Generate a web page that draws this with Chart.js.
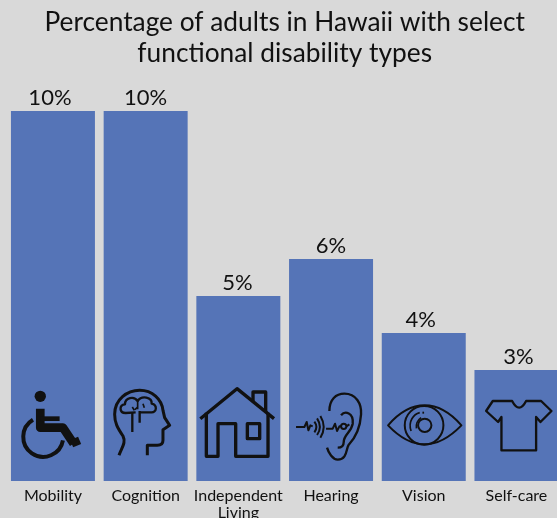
<!DOCTYPE html>
<html>
<head>
<meta charset="utf-8">
<title>Functional disability types</title>
<script src="https://cdn.jsdelivr.net/npm/chart.js@4"></script>
<style>
    html, body { margin: 0; padding: 0; width: 557px; height: 518px; overflow: hidden; background: #d9d9d9; }
    canvas { display: block; }
</style>
</head>
<body>
<canvas id="grafico" width="566" height="518"></canvas>
<script>
const titleLines = ['Percentage of adults in Hawaii with select', 'functional disability types'];
const categories = ['Mobility', 'Cognition', ['Independent', 'Living'], 'Hearing', 'Vision', 'Self-care'];
const percentValues = [10, 10, 5, 6, 4, 3];
const axisMax = 10;

const FONT = 'Lato, "Open Sans", sans-serif';
const INK = '#111111';
const BAR_COLOR = '#5574b7';

// small sideways shift of the value labels
const valueLabelShift = [-3, 0, -1, 0, -3, 2];

// icon outlines, in thirds of a pixel from the bar's bottom centre
const icons = [
    { fill: ['M-55,-254 a17,17 0 1 0 34,0 a17,17 0 1 0 -34,0 Z'], parts: [
        { w: 26, d: 'M-38,-217 L-38,-160 L30,-160 L62,-112' },
        { w: 24, d: 'M56,-112 L80,-122' },
        { w: 14, d: 'M-38,-187 L20,-187' },
        { w: 12, d: 'M-60,-184 A60,60 0 1 0 30,-122' }
    ] },
    { parts: [
        { w: 9, d: 'M-80,-77 C-72,-100 -58,-115 -68,-135 C-85,-160 -93,-175 -93,-200 C-93,-245 -55,-272 -18,-272 C20,-272 48,-245 52,-212 L57,-190 L72,-167 L52,-154 L52,-122 Q52,-107 35,-107 L5,-107 L5,-77' },
        { w: 7, d: 'M-40,-147 L-40,-205 M-18,-175 L-18,-210' },
        { w: 7, d: 'M-30,-206 L-60,-204 C-80,-204 -80,-228 -62,-230 C-62,-250 -35,-256 -24,-240 C-12,-258 20,-252 18,-232 C36,-228 34,-204 16,-206 L-18,-206' },
        { w: 5, d: 'M-24,-240 L-24,-215 M-40,-222 L-34,-212 M-8,-232 L-4,-220 M-24,-222 L-32,-214' }
    ] },
    { parts: [
        { w: 10, d: 'M-114,-187 L-4,-277 L107,-187' },
        { w: 10, d: 'M-96,-205 V-74 H-61 V-172 H-8 V-74 H89 V-205' },
        { w: 10, d: 'M27,-172 H64 V-127 H27 Z' },
        { w: 10, d: 'M44,-240 V-267 H82 V-207' }
    ] },
    { parts: [
        { w: 7, d: 'M-5,-210 C-5,-245 15,-262 40,-262 C75,-262 92,-232 90,-200 C88,-165 75,-132 52,-107 C45,-95 48,-64 20,-64 C5,-64 -8,-85 -12,-100' },
        { w: 7, d: 'M30,-197 C42,-212 68,-205 65,-172 C60,-145 38,-140 38,-117 C38,-105 30,-100 20,-100' },
        { w: 6, d: 'M-105,-162 L-80,-162 L-73,-177 L-68,-152 L-62,-167 L-55,-164' },
        { w: 6, d: 'M-50,-178 Q-38,-162 -50,-146 M-42,-188 Q-25,-162 -42,-138 M-32,-195 Q-12,-162 -32,-130' },
        { w: 6, d: 'M-15,-157 L5,-157 L12,-172 L18,-150 L25,-164 L30,-164 M46,-164 L55,-170' },
        { w: 6, d: 'M46,-164 a8,8 0 1 0 -16,0 a8,8 0 1 0 16,0' }
    ] },
    { parts: [
        { w: 6, d: 'M-107,-167 C-70,-210 -35,-227 3,-227 C40,-227 75,-210 113,-167 C75,-128 40,-110 3,-110 C-35,-110 -70,-128 -107,-167 Z' },
        { w: 6, d: 'M59,-167 a58,58 0 1 0 -116,0 a58,58 0 1 0 116,0' },
        { w: 6, d: 'M23,-167 a20,20 0 1 0 -40,0 a20,20 0 1 0 40,0' },
        { w: 5, d: 'M-38,-150 C-48,-180 -30,-200 -12,-205 M-22,-158 C-24,-175 -15,-185 -8,-190' },
        { w: 6, d: 'M-4,-205 L1,-205' }
    ] },
    { parts: [
        { w: 7, d: 'M-13,-240 L-71,-240 L-91,-210 L-55,-177 L-45,-192 L-45,-92 L59,-92 L59,-192 L72,-177 L105,-210 L74,-240 L29,-240 Q8,-200 -13,-240 Z' }
    ] }
];

// value labels above the bars
const rotulosPlugin = {
    id: 'rotulos',
    afterDatasetsDraw(chart) {
        const ctx = chart.ctx;
        const meta = chart.getDatasetMeta(0);
        ctx.save();
        ctx.font = '22px ' + FONT;
        ctx.fillStyle = INK;
        ctx.textAlign = 'center';
        ctx.textBaseline = 'alphabetic';
        meta.data.forEach((bar, i) => {
            ctx.fillText(percentValues[i] + '%', bar.x + valueLabelShift[i], bar.y - 6);
        });
        ctx.restore();
    }
};

// pictograms at the foot of each bar
const iconesPlugin = {
    id: 'icones',
    afterDatasetsDraw(chart) {
        const ctx = chart.ctx;
        const meta = chart.getDatasetMeta(0);
        const base = chart.scales.y.getPixelForValue(0);
        meta.data.forEach((bar, i) => {
            ctx.save();
            ctx.translate(bar.x, base);
            ctx.scale(1 / 3, 1 / 3);
            ctx.strokeStyle = INK;
            ctx.fillStyle = INK;
            ctx.lineJoin = 'round';
            (icons[i].fill || []).forEach(d => ctx.fill(new Path2D(d)));
            icons[i].parts.forEach(p => {
                ctx.lineWidth = p.w;
                ctx.stroke(new Path2D(p.d));
            });
            ctx.restore();
        });
    }
};

new Chart(document.getElementById('grafico').getContext('2d'), {
    type: 'bar',
    data: {
        labels: categories,
        datasets: [{
            data: percentValues,
            backgroundColor: BAR_COLOR,
            borderWidth: 0,
            barPercentage: 0.906,
            categoryPercentage: 1
        }]
    },
    plugins: [rotulosPlugin, iconesPlugin],
    options: {
        responsive: false,
        animation: false,
        layout: { padding: { left: 6.6, right: 3.2, top: 0, bottom: 0 } },
        plugins: {
            legend: { display: false },
            tooltip: { enabled: false },
            title: {
                display: true,
                text: titleLines,
                color: INK,
                font: { family: FONT, size: 26.3, weight: 'normal', lineHeight: 1.17 },
                padding: { top: 7, bottom: 42.5 }
            }
        },
        scales: {
            x: {
                grid: { display: false },
                border: { display: false },
                ticks: { color: INK, font: { family: FONT, size: 16, lineHeight: 1.06 }, padding: -2, maxRotation: 0, autoSkip: false },
                afterFit(scale) { scale.height = 37; }
            },
            y: { display: false, min: 0, max: axisMax }
        }
    }
});
</script>
</body>
</html>
